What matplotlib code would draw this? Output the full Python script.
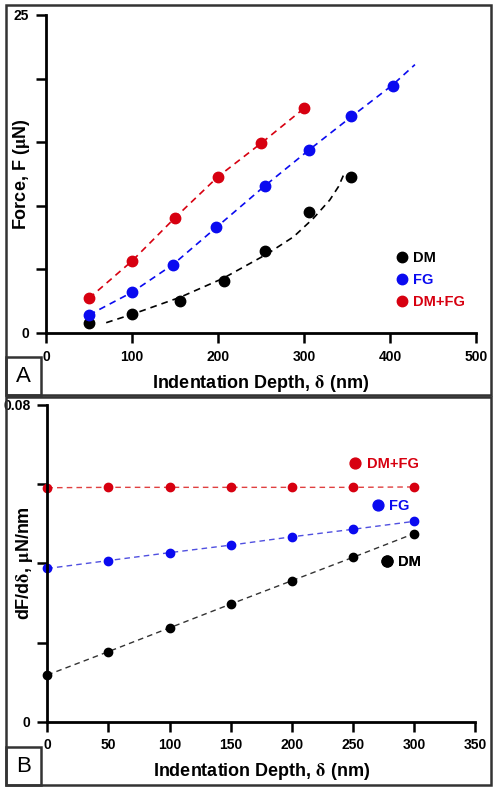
import numpy as np
import matplotlib
matplotlib.use("Agg")
import matplotlib.pyplot as plt
from matplotlib.patches import Rectangle

plt.rcParams['font.family'] = ['Liberation Sans', 'DejaVu Sans']
plt.rcParams['font.weight'] = 'bold'
plt.rcParams['mathtext.fontset'] = 'stix'

RED = '#d70010'
BLUE = '#0a0af0'
BLACK = '#000000'

# ---- panel A : force vs depth ----
dm_x = [50, 100, 156, 207, 255, 306, 355]
dm_y = [0.81, 1.47, 2.52, 4.11, 6.47, 9.54, 12.29]
fg_x = [50, 100, 148, 198, 255, 306, 355, 403]
fg_y = [1.42, 3.2, 5.35, 8.36, 11.58, 14.39, 17.06, 19.42]
dmfg_x = [50, 100, 150, 200, 250, 300]
dmfg_y = [2.73, 5.66, 9.06, 12.29, 14.91, 17.66]

# fitted dashed curves
dm_fit_x = [70, 101, 156, 206, 257, 288, 311, 330, 340, 346]
dm_fit_y = [0.81, 1.49, 2.81, 4.30, 6.21, 7.57, 9.02, 10.46, 11.50, 12.42]
fg_fit_x = [50, 100, 148, 198, 255, 306, 355, 403, 429]
fg_fit_y = [1.42, 3.2, 5.4, 8.3, 11.6, 14.4, 17.0, 19.5, 21.1]

# ---- panel B : stiffness vs depth ----
b_x = [0, 50, 100, 150, 200, 250, 300]
b_dm = [0.0118, 0.0177, 0.0237, 0.0297, 0.0356, 0.0415, 0.0475]
b_fg = [0.0387, 0.0407, 0.0427, 0.0446, 0.0467, 0.0486, 0.0506]
b_dmfg = [0.0591, 0.0592, 0.0592, 0.0592, 0.0592, 0.0592, 0.0593]

W, H = 498, 796
fig = plt.figure(figsize=(W / 100, H / 100), dpi=100)


def px_axes(l, t, r, b):
    return fig.add_axes([l / W, 1 - b / H, (r - l) / W, (b - t) / H])


def style_axes(ax):
    for s in ['top', 'right']:
        ax.spines[s].set_visible(False)
    for s in ['left', 'bottom']:
        ax.spines[s].set_linewidth(2)
    ax.tick_params(direction='out', length=7, width=1.8, labelsize=10, pad=5)


def frame(l, t, r, b, letter, lb_r, lb_t):
    fig.patches.append(Rectangle((l / W, 1 - b / H), (r - l) / W, (b - t) / H,
                                 transform=fig.transFigure, fill=False,
                                 edgecolor='#333333', linewidth=1.8))
    fig.patches.append(Rectangle((l / W, 1 - b / H), (lb_r - l) / W, (b - lb_t) / H,
                                 transform=fig.transFigure, fill=False,
                                 edgecolor='#333333', linewidth=1.8))
    fig.text((l + lb_r) / 2 / W, 1 - (b + lb_t) / 2 / H, letter, fontsize=16,
             fontweight='normal', ha='center', va='center')


frame(6, 5, 491, 395, 'A', 41, 357)
frame(6, 397, 491, 785, 'B', 41, 747)

# panel A
axA = px_axes(46, 15, 476, 333)
axA.plot(dm_fit_x, dm_fit_y, '--', color=BLACK, lw=1.2, dashes=(4, 3))
axA.plot(fg_fit_x, fg_fit_y, '--', color=BLUE, lw=1.2, dashes=(4, 3))
axA.plot(dmfg_x, dmfg_y, '--', color=RED, lw=1.2, dashes=(4, 3))
hA1, = axA.plot(dm_x, dm_y, 'o', color=BLACK, ms=7.5, label='DM', clip_on=False)
hA2, = axA.plot(fg_x, fg_y, 'o', color=BLUE, ms=7.5, label='FG', clip_on=False)
hA3, = axA.plot(dmfg_x, dmfg_y, 'o', color=RED, ms=7.5, label='DM+FG', clip_on=False)
axA.set_xlim(0, 500)
axA.set_ylim(0, 25)
axA.set_xticks([0, 100, 200, 300, 400, 500])
axA.set_yticks([0, 5, 10, 15, 20, 25])
axA.set_yticklabels(['0', '', '', '', '', '25'])
style_axes(axA)
axA.set_xlabel(r'Indentation Depth, $\mathrm{\delta}$ (nm)', fontsize=13, fontweight='bold', labelpad=7)
axA.set_ylabel(r'Force, F ($\mathrm{\mu}$N)', fontsize=13, fontweight='bold')
axA.yaxis.set_label_coords(-14 / 430, 0.5)
axA.legend(handles=[hA1, hA2, hA3], loc='upper left', bbox_to_anchor=(0.81, 0.258),
           frameon=False, handlelength=1, handletextpad=0.3, borderpad=0,
           labelspacing=0.55, labelcolor='markerfacecolor', borderaxespad=0,
           prop={'weight': 'bold', 'size': 10.5})

# panel B
axB = px_axes(47.3, 405, 475, 721.7)
axB.plot(b_x, b_dm, '--', color='#333333', lw=1.0, dashes=(4, 3))
axB.plot(b_x, b_fg, '--', color='#5050e0', lw=1.0, dashes=(4, 3))
axB.plot(b_x, b_dmfg, '--', color='#e04040', lw=1.0, dashes=(4, 3))
hB1, = axB.plot(b_x, b_dm, 'o', color=BLACK, ms=6, label='DM', clip_on=False)
hB2, = axB.plot(b_x, b_fg, 'o', color=BLUE, ms=6, label='FG', clip_on=False)
hB3, = axB.plot(b_x, b_dmfg, 'o', color=RED, ms=6, label='DM+FG', clip_on=False)
axB.set_xlim(0, 350)
axB.set_ylim(0, 0.08)
axB.set_xticks([0, 50, 100, 150, 200, 250, 300, 350])
axB.set_yticks([0, 0.02, 0.04, 0.06, 0.08])
axB.set_yticklabels(['0', '', '', '', '0.08'])
style_axes(axB)
axB.set_xlabel(r'Indentation Depth, $\mathrm{\delta}$ (nm)', fontsize=13, fontweight='bold', labelpad=6)
axB.set_ylabel(r'dF/d$\mathrm{\delta}$, $\mathrm{\mu}$N/nm', fontsize=13, fontweight='bold')
axB.yaxis.set_label_coords(-12 / 427.7, 0.5)

for h, pos in [(hB3, (0.703, 0.814)), (hB2, (0.7555, 0.681)), (hB1, (0.7765, 0.505))]:
    lg = axB.legend(handles=[h], loc='center left', bbox_to_anchor=pos, frameon=False,
                    handlelength=1, handletextpad=0.3, borderpad=0, borderaxespad=0,
                    markerscale=1.3, labelcolor='markerfacecolor',
                    prop={'weight': 'bold', 'size': 10.5})
    axB.add_artist(lg)

fig.savefig('out.png', dpi=100)
